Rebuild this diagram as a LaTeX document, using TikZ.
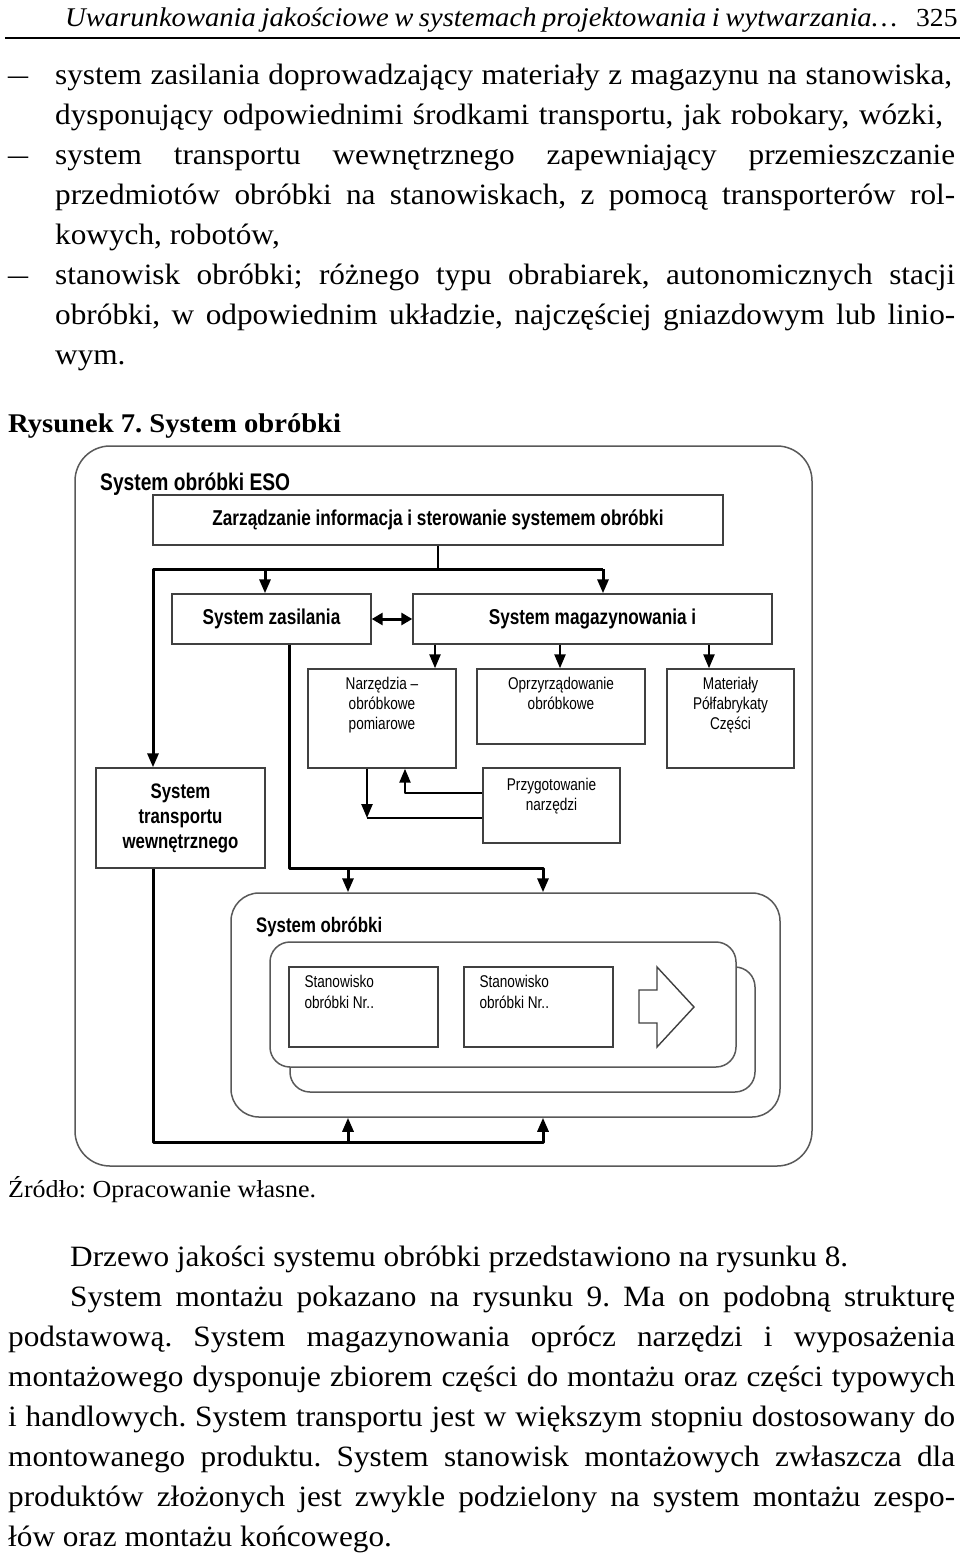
\documentclass[tikz,border=0pt]{standalone}
\usepackage{fontspec}
\setmainfont{Liberation Serif}[FakeStretch=1.06]
\newfontfamily\diagfont[FakeStretch=0.8]{Liberation Sans}
\usetikzlibrary{positioning,arrows.meta}
\newcommand{\jl}[2]{\makebox[#1pt][s]{#2}}
\frenchspacing
\begin{document}
\begin{tikzpicture}[x=1pt,y=-1pt,
    txt/.style={inner sep=0pt,anchor=base west,font=\fontsize{29.5}{34}\selectfont},
    dash node/.style={inner sep=0pt,anchor=base west,font=\fontsize{29}{34}\selectfont},
    frame/.style={draw=black!65,line width=1.5pt,rounded corners=#1,inner sep=0pt},
    box/.style={draw=black!75,line width=1.4pt,fill=white,inner sep=0pt},
    head/.style={inner sep=0pt,align=center,font=\diagfont\bfseries\fontsize{21.5}{24}\selectfont},
    lbl/.style={inner sep=0pt,align=center,font=\diagfont\fontsize{17}{20}\selectfont},
    flow/.style={line width=3pt,line join=round,-{Triangle[length=14pt,width=11pt]}},
    link/.style={line width=3pt,line join=round}]

    \fill[white] (0,0) rectangle (960,1556);
    \useasboundingbox (0,0) rectangle (960,1556);

    \node[txt,font=\itshape\fontsize{27}{34}\selectfont] (hdr) at (65,26) {\jl{832}{Uwarunkowania jakościowe w systemach projektowania i wytwarzania…}};
    \node[txt,font=\fontsize{26}{34}\selectfont] (pageno) at (916,26) {325};
    \draw[line width=2pt] (5,38) -- (960,38);

    \node[dash node] (d1) at (8,84) {\scalebox{1.3}[1]{–}};
    \node[dash node] (d2) at (8,164) {\scalebox{1.3}[1]{–}};
    \node[dash node] (d3) at (8,284) {\scalebox{1.3}[1]{–}};

    \node[txt] (l1) at (55,84) {\jl{897}{system zasilania doprowadzający materiały z magazynu na stanowiska,}};
    \node[txt] (l2) at (55,124) {\jl{888}{dysponujący odpowiednimi środkami transportu, jak robokary, wózki,}};
    \node[txt] (l3) at (55,164) {\jl{900}{system transportu wewnętrznego zapewniający przemieszczanie}};
    \node[txt] (l4) at (55,204) {\jl{900}{przedmiotów obróbki na stanowiskach, z pomocą transporterów rol-}};
    \node[txt] (l5) at (55,244) {kowych, robotów,};
    \node[txt] (l6) at (55,284) {\jl{900}{stanowisk obróbki; różnego typu obrabiarek, autonomicznych stacji}};
    \node[txt] (l7) at (55,324) {\jl{900}{obróbki, w odpowiednim układzie, najczęściej gniazdowym lub linio-}};
    \node[txt] (l8) at (55,364) {wym.};

    \node[txt,font=\bfseries\fontsize{27}{34}\selectfont] (cap) at (8,432) {Rysunek 7. System obróbki};

    \node[frame=35,minimum width=737,minimum height=720] (eso) at (443.5,806) {};
    \node[head,anchor=west,font=\diagfont\bfseries\fontsize{24}{26}\selectfont] (esot) at (100,484) {System obróbki ESO};

    \node[box,minimum width=570,minimum height=50] (zarz) at (438,520) {};
    \node[head] (zarzt) at (zarz) {Zarządzanie informacja i sterowanie systemem obróbki};
    \node[box,minimum width=199,minimum height=50] (zas) at (271.5,619) {};
    \node[head] (zast) at (zas) {System zasilania};
    \node[box,minimum width=359,minimum height=50] (mag) at (592.5,619) {};
    \node[head] (magt) at (mag) {System magazynowania i};

    \node[box,minimum width=148,minimum height=99] (narz) at (382,718.5) {};
    \node[lbl,below=9pt of narz.north] (narzt) {Narzędzia –\\obróbkowe\\pomiarowe};
    \node[box,minimum width=168,minimum height=75] (oprz) at (561,706.5) {};
    \node[lbl,below=9pt of oprz.north] (oprzt) {Oprzyrządowanie\\obróbkowe};
    \node[box,minimum width=127,minimum height=99] (mat) at (730.5,718.5) {};
    \node[lbl,below=9pt of mat.north] (matt) {Materiały\\Półfabrykaty\\Części};
    \node[box,minimum width=137,minimum height=75] (przyg) at (551.5,805.5) {};
    \node[lbl,below=11pt of przyg.north] (przygt) {Przygotowanie\\narzędzi};

    \node[box,minimum width=169,minimum height=100] (trans) at (180.5,818) {};
    \node[head,font=\diagfont\bfseries\fontsize{21}{25}\selectfont] (transt) at (trans) {System\\transportu\\wewnętrznego};

    \node[frame=28,fill=white,minimum width=549,minimum height=224] (sys) at (505.5,1005) {};
    \node[head,anchor=west,font=\diagfont\bfseries\fontsize{21}{24}\selectfont] (syst) at (256,927) {System obróbki};
    \node[frame=20,fill=white,minimum width=465,minimum height=125] (linb) at (522.5,1029.5) {};
    \node[frame=20,fill=white,minimum width=466,minimum height=125] (linf) at (503,1004.5) {};
    \node[box,minimum width=149,minimum height=80] (st1) at (363.5,1007) {};
    \node[lbl,align=left,font=\diagfont\fontsize{17}{21}\selectfont,below right=9pt and 16pt of st1.north west] (st1t) {Stanowisko\\obróbki Nr..};
    \node[box,minimum width=149,minimum height=80] (st2) at (538.5,1007) {};
    \node[lbl,align=left,font=\diagfont\fontsize{17}{21}\selectfont,below right=9pt and 16pt of st2.north west] (st2t) {Stanowisko\\obróbki Nr..};
    \draw[draw=black!75,line width=1.4pt] (639,990) -- (657,990) -- (657,967) -- (694,1007) -- (657,1047) -- (657,1023) -- (639,1023) -- cycle;

    \coordinate (bus1) at (153,569);
    \coordinate (bus2) at (603,569);
    \coordinate (z0) at (265,569);
    \draw[link,line width=2.4pt] (zarz.south) -- (zarz.south |- bus1);
    \draw[flow] (bus2) -- (bus1) -- (bus1 |- trans.north);
    \draw[flow] (z0) -- (z0 |- zas.north);
    \draw[flow] (bus2) -- (bus2 |- mag.north);
    \draw[line width=3pt,{Triangle[length=11pt,width=12pt]}-{Triangle[length=11pt,width=12pt]}] (zas.east) -- (mag.west);

    \coordinate (m1) at (435,0);
    \coordinate (m2) at (560,0);
    \coordinate (m3) at (709,0);
    \draw[flow,line width=2.4pt] (m1 |- mag.south) -- (m1 |- narz.north);
    \draw[flow,line width=2.4pt] (m2 |- mag.south) -- (m2 |- oprz.north);
    \draw[flow,line width=2.4pt] (m3 |- mag.south) -- (m3 |- mat.north);

    \coordinate (p1) at (405,793);
    \coordinate (p2) at (367,818);
    \draw[flow,line width=2.4pt] (p1 -| przyg.west) -- (p1) -- (p1 |- narz.south);
    \draw[flow,line width=2.4pt] (p2 |- narz.south) -- (p2);
    \draw[link,line width=2.4pt] (p2) -- (p2 -| przyg.west);

    \coordinate (s1) at (289,868);
    \coordinate (s2) at (543,868);
    \coordinate (s3) at (348,868);
    \draw[flow] (s1 |- zas.south) -- (s1) -- (s2) -- (s2 |- sys.north);
    \draw[flow] (s3) -- (s3 |- sys.north);

    \coordinate (t1) at (153,1142);
    \coordinate (t2) at (543,1142);
    \coordinate (t3) at (348,1142);
    \draw[flow] (t1 |- trans.south) -- (t1) -- (t2) -- (t2 |- sys.south);
    \draw[flow] (t3) -- (t3 |- sys.south);

    \node[txt,font=\fontsize{24.5}{28}\selectfont] (src) at (8,1197) {Źródło: Opracowanie własne.};

    \node[txt] (p1l) at (70,1266) {\jl{778}{Drzewo jakości systemu obróbki przedstawiono na rysunku 8.}};
    \node[txt] (p2l) at (70,1306) {\jl{885}{System montażu pokazano na rysunku 9. Ma on podobną strukturę}};
    \node[txt] (p3l) at (8,1346) {\jl{947}{podstawową. System magazynowania oprócz narzędzi i wyposażenia}};
    \node[txt] (p4l) at (8,1386) {\jl{947}{montażowego dysponuje zbiorem części do montażu oraz części typowych}};
    \node[txt] (p5l) at (8,1426) {\jl{947}{i handlowych. System transportu jest w większym stopniu dostosowany do}};
    \node[txt] (p6l) at (8,1466) {\jl{947}{montowanego produktu. System stanowisk montażowych zwłaszcza dla}};
    \node[txt] (p7l) at (8,1506) {\jl{947}{produktów złożonych jest zwykle podzielony na system montażu zespo-}};
    \node[txt] (p8l) at (8,1546) {łów oraz montażu końcowego.};
\end{tikzpicture}
\end{document}
